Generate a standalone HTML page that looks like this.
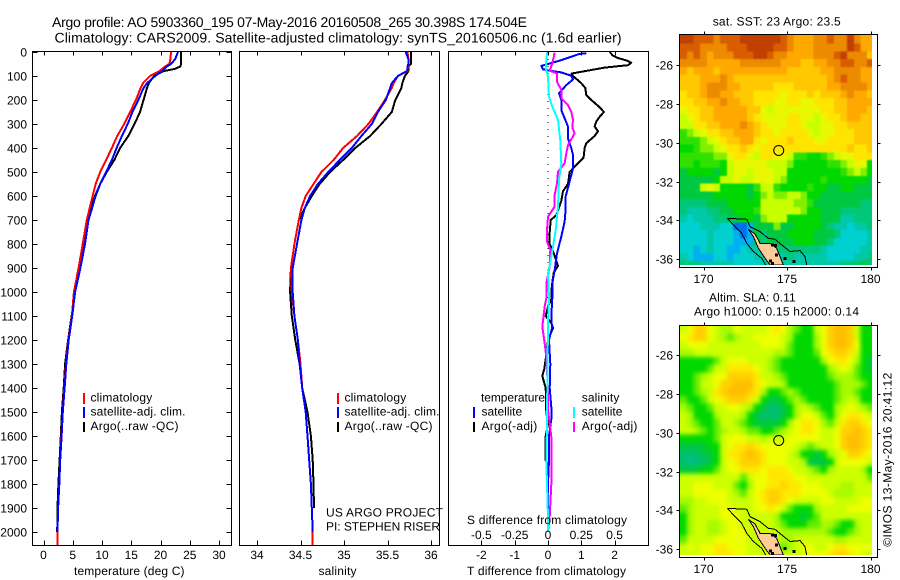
<!DOCTYPE html>
<html lang="en">
<head>
<meta charset="utf-8">
<title>Argo profile 5903360_195</title>
<style>
html,body{margin:0;padding:0;background:#fff}
svg{display:block}
text{font-family:"Liberation Sans",sans-serif;font-size:12px;fill:#000;text-rendering:geometricPrecision}
.title{font-size:14px}
</style>
</head>
<body>
<svg id="fig" width="900" height="580" viewBox="0 0 900 580" xmlns="http://www.w3.org/2000/svg">
<defs>
<clipPath id="clip-sst"><rect x="680" y="35" width="192" height="230"/></clipPath>
<clipPath id="clip-sla"><rect x="680" y="326" width="192" height="229"/></clipPath>
<filter id="soften-sst" filterUnits="userSpaceOnUse" x="650" y="5" width="250" height="290" color-interpolation-filters="sRGB"><feGaussianBlur stdDeviation="0.8"/></filter>
<filter id="soften-sla" filterUnits="userSpaceOnUse" x="650" y="296" width="250" height="290" color-interpolation-filters="sRGB"><feGaussianBlur stdDeviation="2.2"/></filter>
</defs>
<rect x="0" y="0" width="900" height="580" fill="#fff"/>
<g id="layer-marks"></g>
<g id="layer-frames"></g>

<text class="title" x="52" y="27" textLength="475">Argo profile: AO 5903360_195 07-May-2016 20160508_265 30.398S 174.504E</text>
<text class="title" x="54.5" y="42.5" textLength="567">Climatology: CARS2009. Satellite-adjusted climatology: synTS_20160506.nc (1.6d earlier)</text>

<text x="74" y="575" textLength="110.5">temperature (deg C)</text>
<text x="318.5" y="575" textLength="38">salinity</text>
<text x="467" y="575" textLength="159">T difference from climatology</text>
<text x="467" y="524" textLength="160">S difference from climatology</text>

<g>
<rect x="83" y="393" width="2" height="11" fill="#f00"/>
<rect x="83" y="407" width="2" height="11" fill="#00f"/>
<rect x="83" y="422" width="2" height="10" fill="#000"/>
<text x="90.5" y="401.7" textLength="61.7">climatology</text>
<text x="90.5" y="415.7" textLength="95">satellite-adj. clim.</text>
<text x="90.5" y="430" textLength="88">Argo(..raw -QC)</text>
</g>
<g>
<rect x="337" y="393" width="2" height="11" fill="#f00"/>
<rect x="337" y="407" width="2" height="11" fill="#00f"/>
<rect x="337" y="422" width="2" height="10" fill="#000"/>
<text x="344.5" y="401.7" textLength="61.7">climatology</text>
<text x="344.5" y="415.7" textLength="95">satellite-adj. clim.</text>
<text x="344.5" y="430" textLength="88">Argo(..raw -QC)</text>
</g>
<text x="326" y="516.7" textLength="117">US ARGO PROJECT</text>
<text x="326" y="530.7" textLength="114">PI: STEPHEN RISER</text>

<g>
<text x="481" y="401.7" textLength="64">temperature</text>
<text x="481.5" y="415.7" textLength="40.7">satellite</text>
<text x="481.5" y="430" textLength="55.7">Argo(-adj)</text>
<text x="581.7" y="401.7" textLength="37.7">salinity</text>
<text x="581.7" y="415.7" textLength="40.7">satellite</text>
<text x="581.7" y="430" textLength="55.7">Argo(-adj)</text>
<rect x="473" y="407" width="2" height="11" fill="#00f"/>
<rect x="473" y="422" width="2" height="10" fill="#000"/>
<rect x="573" y="407" width="2" height="11" fill="#0ff"/>
<rect x="573" y="422" width="2" height="10" fill="#f0f"/>
</g>

<text x="712.7" y="25.7" textLength="128">sat. SST: 23 Argo: 23.5</text>
<text x="709" y="301.7" textLength="86.7">Altim. SLA: 0.11</text>
<text x="694" y="315.7" textLength="165">Argo h1000: 0.15 h2000: 0.14</text>
<text transform="translate(891.7,546.7) rotate(-90)" x="0" y="0" textLength="174">©IMOS 13-May-2016 20:41:12</text>
</svg>

<script>
// ---------- profile data (depth in metres) ----------
const profileDepths = [0,30,50,60,70,80,100,130,150,200,250,300,350,400,450,500,550,600,650,700,800,900,1000,1100,1200,1300,1400,1500,1600,1700,1800,1900,2000,2054];
const tempArgo = [23.5,23.5,23.5,23.4,22.5,20.5,18.9,18.0,17.7,17.1,16.5,15.55,14.5,13.1,12.1,10.8,9.7,8.8,8.1,7.5,6.8,6.15,5.4,4.8,4.2,3.7,3.45,3.15,2.95,2.75,2.55,2.4,2.35,null];
const tempClim = [21.8,21.7,21.5,20.8,20.3,19.8,18.2,17.0,16.6,15.8,14.8,13.8,12.6,11.7,10.7,9.7,8.9,8.4,7.9,7.4,6.7,6.0,5.2,4.85,4.25,3.85,3.55,3.3,3.05,2.85,2.7,2.5,2.4,2.4];
const tempSat = [23,22.5,21.8,21.1,20.7,20.2,19.1,17.7,17.1,16.2,15.2,14.4,13.4,12.5,11.7,10.7,9.7,8.9,8.3,7.7,7.1,6.3,5.4,4.9,4.3,3.9,3.6,3.3,3.1,2.85,2.7,2.5,2.4,null];
const salArgo = [35.77,35.77,35.77,35.74,35.74,35.74,35.70,35.67,35.66,35.59,35.55,35.43,35.30,35.13,34.99,34.84,34.72,34.63,34.55,34.48,34.43,34.39,34.38,34.40,34.44,34.49,34.52,34.58,34.62,34.64,34.65,34.655,null,null];
const salClim = [35.73,35.74,35.74,35.74,35.73,35.73,35.62,35.57,35.55,35.47,35.38,35.28,35.15,34.99,34.88,34.74,34.65,34.56,34.51,34.48,34.43,34.39,34.40,34.43,34.47,34.50,34.52,34.56,34.58,34.60,34.62,34.63,34.64,34.64];
const salSat = [35.71,35.74,35.74,35.73,35.73,35.72,35.62,35.55,35.53,35.48,35.39,35.32,35.20,35.09,34.95,34.82,34.70,34.61,34.55,34.51,34.46,34.41,34.41,34.43,34.47,34.49,34.52,34.56,34.58,34.60,34.62,34.63,34.64,null];

// ---------- difference-from-climatology data ----------
const tArgoDepths = [0,15,25,35,45,55,65,90,100,130,150,180,200,230,250,270,290,310,330,350,380,400,440,470,500,550,580,620,680,700,750,800,830,870,890,920,960,1000,1030,1060,1100,1130,1150,1200,1280,1320,1350,1400,1500,1550,1600,1700,1720,1800,2000];
const tArgoDiff = [1.85,1.95,2.1,2.35,2.5,2.4,1.7,0.7,0.75,1.0,1.12,1.15,1.3,1.55,1.68,1.55,1.45,1.4,1.5,1.4,1.15,1.1,1.07,0.85,0.65,0.6,0.45,0.4,0.25,0.08,0.05,0.05,0.15,0.25,0.3,0.17,0.13,0.1,0.1,0,-0.07,0.1,0.15,0,-0.07,-0.11,-0.17,-0.07,-0.05,0,-0.07,-0.07,0,0,0];
const tSatDepths = [5,8,36,58,72,78,85,99,114,138,172,200,242,276,311,360,401,429,485,540,603,658,707,769,839,908,964,1026,1100,1150,1200,1300,1400,1480,1530,1600,1700,1800,2000];
const tSatDiff = [1.15,0.95,0.35,-0.2,-0.15,0.05,0.4,0.7,0.75,0.55,0.33,0.4,0.4,0.5,0.6,0.6,0.7,0.75,0.75,0.65,0.53,0.53,0.5,0.4,0.27,0.2,0.13,0.13,0.1,0.12,0.03,0.07,0.05,0.1,0.1,0.03,0.03,0,0];
const sArgoDepths = [3,47,78,89,124,158,193,221,249,283,314,339,388,422,464,499,547,596,644,686,742,790,825,894,964,1026,1060,1144,1214,1270,1408,1492,1547,1603,1800,1936,2000];
const sArgoDiff = [0.05,0.0325,0.0125,0.0675,0.0675,0.1,0.1,0.15,0.175,0.1875,0.1825,0.2,0.15,0.1375,0.125,0.075,0.0675,0.05,0.05,0,-0.0075,-0.0075,0.0175,0.0125,-0.0125,-0.0125,-0.025,-0.0425,-0.025,-0.0125,0,0,0.0125,0.025,0.025,0.0125,0];
const sSatDepths = [3,68,103,186,228,283,367,464,533,644,742,853,922,1026,1130,1400,1550,1700,1800,1936,2000];
const sSatDiff = [-0.0075,-0.0175,0,0.0075,0.0325,0.075,0.0925,0.1,0.0825,0.075,0.0575,0.025,0,0.0075,0,-0.005,-0.0075,-0.0125,-0.0075,0,0];

// ---------- axis tick labels ----------
const depthTicks = [0,100,200,300,400,500,600,700,800,900,1000,1100,1200,1300,1400,1500,1600,1700,1800,1900,2000];
const tempTicks = [0,5,10,15,20,25,30];
const salTicks = [34,34.5,35,35.5,36];
const tDiffTicks = [-2,-1,0,1,2];
const tDiffLabels = ["-2","-1","0","1","2"];
const sDiffTicks = [-0.5,-0.25,0,0.25,0.5];
const sDiffLabels = ["-0.5","-0.25","0","0.25","0.5"];
const latTicks = [-26,-28,-30,-32,-34,-36];
const lonTicks = [170,175,180];

// ---------- map grids: colour level per 0.4 degree cell, north to south ----------
const sstColors = ["#c04000","#d85c00","#ec8a00","#ffa800","#ffc800","#ffe400","#e8f800","#c8ff00","#80f000","#30e000","#00d800","#00c840","#00c878","#00c8a8","#00d0d0","#00b0f0","#0070f0"];
const slaColors = ["#c04000","#d85c00","#ec8a00","#ffbe00","#ffd000","#ffe800","#eeff00","#ccff00","#a8fa00","#60ec00","#00d800","#00c840","#00c070","#00c090","#00d0d0","#00b0f0","#0070f0"];
const sstRows = [
"00111211100000012333221220233",
"11122221110000112333222220133",
"12123222111001223333222102224",
"22223333322222233344332211221",
"34333433333333334444433222233",
"44433323444444444444443212233",
"44432223344444555444443322223",
"54432233444555565554544432334",
"55443323344555665566555443333",
"65544333334467666666655443334",
"76544333334566665566765543344",
"77554433323456665567766554444",
"98765544333455655556766555444",
"99987654433565554555665555444",
"aa988765545655555555555554554",
"9999988655675566799aa98766555",
"99a999a7666667778aaaaa998766a",
"baaaaba766766677aaaaaaaa9878a",
"bbbbba7767766678aaaaa9aaaaaab",
"bbb767aaaab9779aaaa9aabbaabbb",
"bbbbbaaaaaba8788778aabbbbbbbb",
"ccccbbbaaaaa77777889bbbbbbbcc",
"cdddccbbaaa97777778aabbbccccc",
"dedddccbbaab8777aaaaabbbddccc",
"eeedddeeggfbbb8bbaaaabcddeddc",
"eeeedeeefgfbcbbbaaaabbbceeeed",
"eeeedeeefffbcbbbbaaabbceeeeed",
"eefedeeffeddcccccccccdeeeeedd",
"defffeefeeedddddcdddddeeeeddc",
"cccdddddeeeeddddddddddddcccbc"
];
const slaRows = [
"764467886777765689aa7643347aa",
"65446789877666678aaa8643347aa",
"76667777777766679aaa8643346aa",
"88777777777777889aaa9654457aa",
"aaaaa9766677789aaaaaa865568ab",
"aaaa97755556789aaaaaaa87679ab",
"aa98766444457789aaaaaa98889aa",
"aa97764433356778aaaaaaa98889a",
"aa98754333458aa989aaaaa9889aa",
"9aa976544457abba989aaaa9878aa",
"89aa9776678abccba8789aa876789",
"78aaa87778abcccba86679a865567",
"789aa97789abbbba8655689754456",
"7789a9877899aa987655677644345",
"aaaaa976667787776666677643345",
"bbbbaa76554566666789877643345",
"cccbba755434566678aaba8764456",
"cdccba7654445666778bbba766667",
"bbbaa9766555655567789a877778a",
"77777777797665555667777777779",
"776667779a8665545566677788777",
"77666667897654455566667888777",
"88776667777654456777766777766",
"98777766777665679aaa877776666",
"a87777666777778aaaba977777777",
"a877887667777789aaa99889aa877",
"a8778876667777788888889aa9877",
"97777666667777788777777887777",
"76766556667777898766776556666",
"77766555667777777776665445677"
];

// ---------- geography (lon, lat) ----------
const landLon = [172.69,173.09,173.39,173.98,174.38,174.58,174.78,173.98,173.69,173.29,172.99];
const landLat = [-34.46,-34.70,-35.18,-35.18,-35.43,-35.86,-36.29,-36.29,-35.95,-35.43,-34.83];
const shelfWestLon = [171.43,171.79,172.29,172.59,172.99,173.49,173.78];
const shelfWestLat = [-33.89,-34.23,-34.66,-35.18,-35.60,-35.95,-36.38];
const shelfEastLon = [171.43,172.59,172.79,173.39,173.88,174.28,174.68,175.18,175.78,176.08,176.18];
const shelfEastLat = [-33.89,-33.94,-34.32,-34.58,-34.92,-34.97,-35.26,-35.60,-35.55,-35.86,-36.29];
const coastSpeckLon = [174.14,174.38,174.14,174.88,175.42,174.3,174.0];
const coastSpeckLat = [-35.26,-35.78,-36.21,-35.95,-36.12,-35.3,-36.1];
const argoLon = 174.504;
const argoLat = -30.398;

// ---------- axis functions ----------
const NS = "http://www.w3.org/2000/svg";
const marks = document.getElementById("layer-marks");
const frames = document.getElementById("layer-frames");
const depthY = d => 52 + d * 0.24;
const tempX = v => 43.5 + v * 5.85;
const salX = v => 257 + (v - 34) * 87;
const tDiffX = v => 548 + v * 33.3;
const sDiffX = v => 548 + v * 133.2;
const lonX = v => 703.5 + (v - 170) * 16.7;
const sstLatY = v => 65 - (v + 26) * 19.43;
const slaLatY = v => 355 - (v + 26) * 19.43;

function make(tag, parent, attrs) {
  const el = document.createElementNS(NS, tag);
  for (const k in attrs) el.setAttribute(k, attrs[k]);
  parent.appendChild(el);
  return el;
}

function drawSeries(name, depths, values, xFn, color, width) {
  const pts = [];
  depths.forEach((d, i) => {
    if (values[i] !== null) pts.push(xFn(values[i]).toFixed(1) + "," + depthY(d).toFixed(1));
  });
  const line = make("polyline", marks, {points: pts.join(" "), fill: "none", stroke: color, "stroke-width": width, "stroke-linejoin": "round", "shape-rendering": "crispEdges"});
  
  
}

function drawLine(name, parent, x1, y1, x2, y2) {
  const l = make("line", parent, {x1: x1, y1: y1, x2: x2, y2: y2, stroke: "#000", "stroke-width": 1, "shape-rendering": "crispEdges"});
  
  
}

function drawLabel(name, x, y, anchor, str) {
  const t = make("text", frames, {x: x, y: y, "text-anchor": anchor});
  t.textContent = str;
  
  
}

function drawFrame(name, x0, y0, x1, y1) {
  const r = make("rect", frames, {x: x0, y: y0, width: x1 - x0, height: y1 - y0, fill: "none", stroke: "#000", "stroke-width": 1, "shape-rendering": "crispEdges"});
  
  
}

function drawGrid(name, rows, colors, latY, clipId, filterId) {
  const clip = make("g", marks, {"clip-path": "url(#" + clipId + ")"});
  
  
  const g = make("g", clip, {filter: "url(#" + filterId + ")", "shape-rendering": "crispEdges"});
  const cw = 0.4 * 16.7, ch = 0.4 * 19.43;
  const top = latY(-24.5);
  const x0 = lonX(168.6);
  const pad = 2;
  const nRows = rows.length, nCols = rows[0].length;
  for (let r = -pad; r < nRows + pad; r++) {
    const row = rows[Math.max(0, Math.min(nRows - 1, r))];
    for (let c = -pad; c < nCols + pad; c++) {
      const level = parseInt(row[Math.max(0, Math.min(nCols - 1, c))], 17);
      const cell = make("rect", g, {x: (x0 + c * cw).toFixed(2), y: (top + r * ch).toFixed(2), width: (cw + 0.6).toFixed(2), height: (ch + 0.6).toFixed(2), fill: colors[level]});
      
      
    }
  }
}

function drawGeography(prefix, latY, clipId) {
  const g = make("g", marks, {"clip-path": "url(#" + clipId + ")", "shape-rendering": "crispEdges"});
  
  
  const path = (lons, lats) => lons.map((v, i) => lonX(v).toFixed(1) + "," + latY(lats[i]).toFixed(1)).join(" ");
  const land = make("polygon", g, {points: path(landLon, landLat), fill: "#ffcc99", stroke: "#000", "stroke-width": 1});
  
  
  const west = make("polyline", g, {points: path(shelfWestLon, shelfWestLat), fill: "none", stroke: "#000", "stroke-width": 1});
  
  
  const east = make("polyline", g, {points: path(shelfEastLon, shelfEastLat), fill: "none", stroke: "#000", "stroke-width": 1});
  
  
  coastSpeckLon.forEach((v, i) => {
    const s = make("rect", g, {x: lonX(v) - 1.5, y: latY(coastSpeckLat[i]) - 1.5, width: 3, height: 3, fill: "#000"});
    
    
  });
  const ring = make("circle", g, {cx: lonX(argoLon), cy: latY(argoLat), r: 5, fill: "none", stroke: "#000", "stroke-width": 1, "shape-rendering": "auto"});
  
  
}

// ---------- temperature panel ----------
drawSeries("temperature-argo-line", profileDepths, tempArgo, tempX, "#000", 2);
drawSeries("temperature-climatology-line", profileDepths, tempClim, tempX, "#f00", 2);
drawSeries("temperature-satellite-adj-line", profileDepths, tempSat, tempX, "#00f", 2);
drawFrame("temperature-plot-frame", 32.5, 51.5, 231.5, 545.5);
depthTicks.forEach(d => {
  const y = Math.round(depthY(d)) + 0.5;
  drawLine("depth-tick-left", frames, 32.5, y, 37.5, y);
  drawLine("depth-tick-right", frames, 226.5, y, 231.5, y);
  drawLabel("depth-tick-label", 27, y + 4, "end", String(d));
});
tempTicks.forEach(v => {
  const x = Math.round(tempX(v)) + 0.5;
  drawLine("temperature-tick-top", frames, x, 51.5, x, 55.5);
  drawLine("temperature-tick-bottom", frames, x, 540.5, x, 545.5);
  drawLabel("temperature-tick-label", tempX(v), 559, "middle", String(v));
});

// ---------- salinity panel ----------
drawSeries("salinity-argo-line", profileDepths, salArgo, salX, "#000", 2);
drawSeries("salinity-climatology-line", profileDepths, salClim, salX, "#f00", 2);
drawSeries("salinity-satellite-adj-line", profileDepths, salSat, salX, "#00f", 2);
drawFrame("salinity-plot-frame", 239.5, 51.5, 439.5, 545.5);
salTicks.forEach(v => {
  const x = Math.round(salX(v)) + 0.5;
  drawLine("salinity-tick-top", frames, x, 51.5, x, 55.5);
  drawLine("salinity-tick-bottom", frames, x, 540.5, x, 545.5);
  drawLabel("salinity-tick-label", salX(v), 559, "middle", String(v));
});

// ---------- difference panel ----------
const zeroLine = make("line", marks, {x1: tDiffX(0), y1: 52, x2: tDiffX(0), y2: 310, stroke: "#000", "stroke-width": 1, "stroke-dasharray": "1 6", "shape-rendering": "crispEdges"});


drawSeries("t-diff-argo-line", tArgoDepths, tArgoDiff, tDiffX, "#000", 2);
drawSeries("t-diff-satellite-line", tSatDepths, tSatDiff, tDiffX, "#00f", 2);
drawSeries("s-diff-argo-line", sArgoDepths, sArgoDiff, sDiffX, "#f0f", 2);
drawSeries("s-diff-satellite-line", sSatDepths, sSatDiff, sDiffX, "#0ff", 2);
drawFrame("difference-plot-frame", 448.5, 51.5, 648.5, 545.5);
tDiffTicks.forEach((v, i) => {
  const x = Math.round(tDiffX(v)) + 0.5;
  drawLine("t-diff-tick-top", frames, x, 51.5, x, 55.5);
  drawLine("t-diff-tick-bottom", frames, x, 540.5, x, 545.5);
  drawLabel("t-diff-tick-label", tDiffX(v), 559, "middle", tDiffLabels[i]);
});
sDiffTicks.forEach((v, i) => {
  drawLabel("s-diff-tick-label", sDiffX(v), 539, "middle", sDiffLabels[i]);
});

// ---------- maps ----------
drawGrid("sst-heatmap", sstRows, sstColors, sstLatY, "clip-sst", "soften-sst");
drawGeography("sst", sstLatY, "clip-sst");
drawGrid("sla-heatmap", slaRows, slaColors, slaLatY, "clip-sla", "soften-sla");
drawGeography("sla", slaLatY, "clip-sla");

function drawMapAxes(prefix, top, bottom, latY, labelY) {
  drawFrame(prefix + "-map-frame", 679.5, top, 877.5, bottom);
  latTicks.forEach(v => {
    const y = Math.round(latY(v)) + 0.5;
    drawLine(prefix + "-lat-tick-left", frames, 676.5, y, 679.5, y);
    drawLine(prefix + "-lat-tick-right", frames, 877.5, y, 880.5, y);
    drawLabel(prefix + "-lat-tick-label", 673, y + 4, "end", String(v));
  });
  lonTicks.forEach(v => {
    const x = Math.round(lonX(v)) + 0.5;
    drawLine(prefix + "-lon-tick-top", frames, x, top - 3, x, top);
    drawLine(prefix + "-lon-tick-bottom", frames, x, bottom, x, bottom + 3);
    drawLabel(prefix + "-lon-tick-label", lonX(v), labelY, "middle", String(v));
  });
}
drawMapAxes("sst", 34.5, 267.5, sstLatY, 283);
drawMapAxes("sla", 325.5, 557.5, slaLatY, 573);
</script>
</body>
</html>
